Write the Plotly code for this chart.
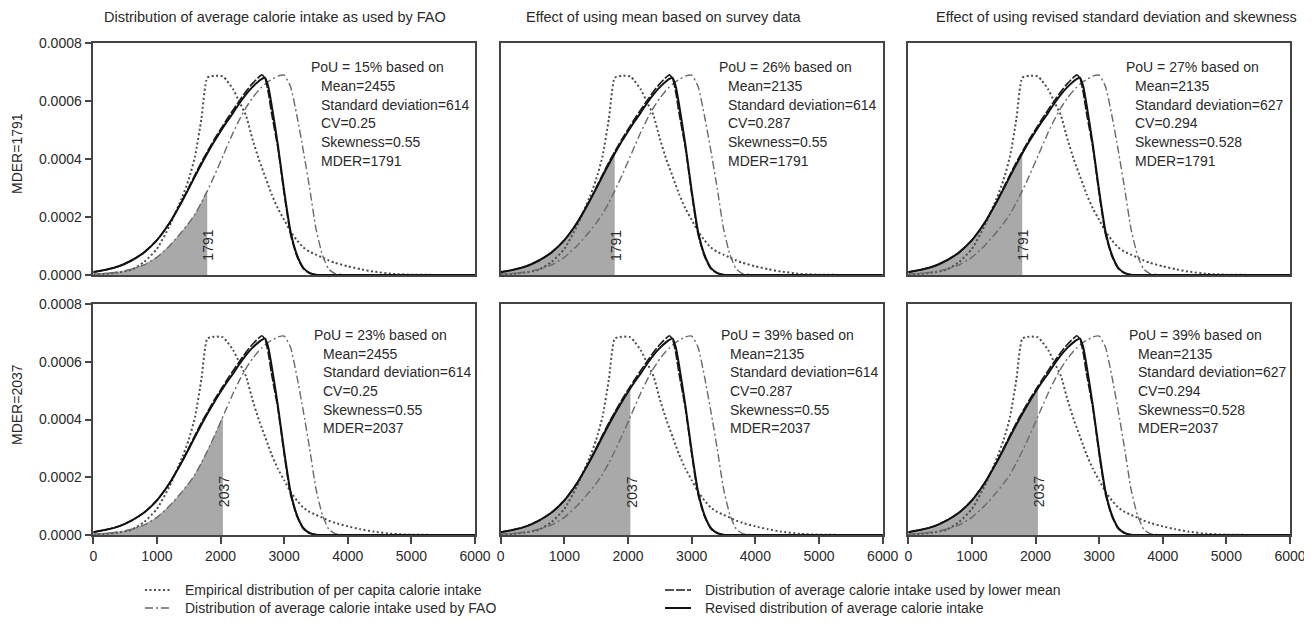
import plotly.graph_objects as go

# ---------------- data ----------------
calories = [0, 200, 400, 600, 800, 1000, 1200, 1400, 1500, 1600, 1700, 1791, 1900, 2037,
            2100, 2200, 2300, 2400, 2500, 2600, 2650, 2700, 2750, 2800, 2900, 3000, 3100,
            3200, 3300, 3400, 3500, 3600, 3700, 3800, 4000, 4200, 4400, 4700, 5000, 6000]

empirical = [0.000002, 0.000004, 0.000009, 0.000018, 0.000045, 0.00009, 0.00017, 0.00027,
             0.00033, 0.00041, 0.00054, 0.00068, 0.000687, 0.000685,
             0.00067, 0.00064, 0.000595, 0.00055, 0.00047, 0.0004, 0.00037, 0.00034, 0.00031,
             0.00028, 0.00023, 0.00019, 0.00015,
             0.00012, 0.000095, 0.00008, 0.00007, 0.00006, 0.00005, 0.000042, 0.00003,
             0.00002, 0.000012, 0.000004, 0.000001, 0.0]

fao = [0.000003, 0.000006, 0.00001, 0.00002, 0.000035, 0.000061, 0.000101, 0.000151,
       0.000179, 0.00021, 0.00025, 0.00029, 0.000341, 0.00041,
       0.000442, 0.000492, 0.000537, 0.000577, 0.00061, 0.000637, 0.000648, 0.000658, 0.000667,
       0.000674, 0.000686, 0.000689, 0.00065,
       0.00055, 0.00043, 0.0003, 0.00016, 0.00007, 0.00002, 0.000005, 0.0,
       0.0, 0.0, 0.0, 0.0, 0.0]

lower_mean = [0.00001, 0.000018, 0.00003, 0.00005, 0.000078, 0.00012, 0.00018, 0.000258,
              0.000302, 0.000346, 0.000389, 0.000425, 0.000467, 0.000515,
              0.000537, 0.00057, 0.000602, 0.000633, 0.00066, 0.000682, 0.00069, 0.000678,
              0.00063, 0.00056, 0.00044, 0.00028, 0.00014,
              0.000065, 0.000022, 0.000006, 0.000001, 0.0, 0.0, 0.0, 0.0,
              0.0, 0.0, 0.0, 0.0, 0.0]

revised = [0.00001, 0.000018, 0.00003, 0.00005, 0.000078, 0.00012, 0.00018, 0.000256,
           0.000298, 0.000341, 0.000383, 0.000419, 0.00046, 0.000508,
           0.000529, 0.00056, 0.000593, 0.000623, 0.000648, 0.000668, 0.000676, 0.00068,
           0.00065, 0.00059, 0.00045, 0.00029, 0.00015,
           0.00007, 0.000025, 0.000007, 0.000001, 0.0, 0.0, 0.0, 0.0,
           0.0, 0.0, 0.0, 0.0, 0.0]

panel_titles = ["Distribution of average calorie intake as used by FAO",
                "Effect of using mean based on survey data",
                "Effect of using revised standard deviation and skewness"]
row_mder = [1791, 2037]
pou = [["15%", "26%", "27%"], ["23%", "39%", "39%"]]
means = ["2455", "2135", "2135"]
sds = ["614", "614", "627"]
cvs = ["0.25", "0.287", "0.294"]
skews = ["0.55", "0.55", "0.528"]
x_ticks = [0, 1000, 2000, 3000, 4000, 5000, 6000]
y_ticks = [0.0, 0.0002, 0.0004, 0.0006, 0.0008]
y_tick_text = ["0.0000", "0.0002", "0.0004", "0.0006", "0.0008"]

legend_labels = ["Empirical distribution of per capita calorie intake",
                 "Distribution of average calorie intake used by lower mean",
                 "Distribution of average calorie intake used by FAO",
                 "Revised distribution of average calorie intake"]

# ---------------- styling ----------------
FONT = "Liberation Sans, Arial, sans-serif"
TXT = "#2a2a2a"
W, H = 1312, 629
OFF = 8  # page body margin offset compensation (px)
xdom = [[0.06502, 0.35595], [0.37553, 0.66669], [0.68620, 0.97713]]
ydom = [[0.57552, 0.94436], [0.16216, 0.52941]]


def px(v):
    return (v - OFF) / W


def py(v):
    return 1 - (v - OFF) / H


styles = {
    "empirical": dict(color="#4d4d4d", width=2, dash="2px,2.5px"),
    "fao": dict(color="#6a6a6a", width=1.4, dash="8px,3px,2px,3px"),
    "lower": dict(color="#1a1a1a", width=1.6, dash="9px,2px"),
    "revised": dict(color="#111111", width=2),
}
series = {"empirical": empirical, "fao": fao, "lower": lower_mean, "revised": revised}
shade_key = ["fao", "lower", "revised"]

fig = go.Figure()
annotations = []
layout_axes = {}

for r in range(2):
    for c in range(3):
        k = r * 3 + c + 1
        xa = "x" if k == 1 else f"x{k}"
        ya = "y" if k == 1 else f"y{k}"
        mder = row_mder[r]
        # shaded area
        src = series[shade_key[c]]
        sx = [x for x in calories if x <= mder]
        sy = [y for x, y in zip(calories, src) if x <= mder]
        fig.add_trace(go.Scatter(x=sx, y=sy, mode="lines", fill="tozeroy",
                                 fillcolor="#a9a9a9", line=dict(color="#a0a0a0", width=0.8,
                                 shape="spline", smoothing=0.5),
                                 xaxis=xa, yaxis=ya, showlegend=False, hoverinfo="skip"))
        for key in ["empirical", "fao", "lower", "revised"]:
            fig.add_trace(go.Scatter(x=calories, y=series[key], mode="lines",
                                     line=dict(**styles[key], shape="spline", smoothing=0.5),
                                     xaxis=xa, yaxis=ya, showlegend=False))
        # axes
        xname = "xaxis" if k == 1 else f"xaxis{k}"
        yname = "yaxis" if k == 1 else f"yaxis{k}"
        layout_axes[xname] = dict(
            domain=xdom[c], anchor=ya, range=[0, 6000], tickvals=x_ticks,
            showticklabels=(r == 1), ticks="outside" if r == 1 else "", ticklen=7,
            tickwidth=1.5, tickcolor="#444", showline=True, linecolor="#444", linewidth=1.5,
            mirror=True, showgrid=False, zeroline=False, automargin=False,
            tickfont=dict(family=FONT, size=14, color=TXT))
        layout_axes[yname] = dict(
            domain=ydom[r], anchor=xa, range=[0, 0.0008], tickvals=y_ticks,
            ticktext=y_tick_text, showticklabels=(c == 0),
            ticks="outside" if c == 0 else "", ticklen=7, tickwidth=1.5, tickcolor="#444",
            showline=True, linecolor="#444", linewidth=1.5, mirror=True, showgrid=False,
            zeroline=False, automargin=False, tickfont=dict(family=FONT, size=14, color=TXT))
        # MDER label
        annotations.append(dict(x=mder + 20, y=0.000103 if r == 0 else 0.000149,
                                xref=xa, yref=ya, text=str(mder), textangle=-90,
                                xanchor="center", yanchor="middle",
                                showarrow=False, font=dict(family=FONT, size=14, color=TXT)))
        # info block
        lines = [f"PoU = {pou[r][c]} based on", f"Mean={means[c]}",
                 f"Standard deviation={sds[c]}", f"CV={cvs[c]}",
                 f"Skewness={skews[c]}", f"MDER={mder}"]
        y0 = 0.000717 if r == 0 else 0.000693
        step = 0.0000648
        xl = 3395 if r == 0 else 3430
        xi = 3540 if r == 0 else 3575
        for i, t in enumerate(lines):
            annotations.append(dict(x=xl if i == 0 else xi, y=y0 - i * step, xref=xa, yref=ya,
                                    text=t, showarrow=False, xanchor="left", yanchor="middle",
                                    font=dict(family=FONT, size=14, color=TXT)))

# panel titles
title_centers = [275, 664, 1116]
for c in range(3):
    annotations.append(dict(x=px(title_centers[c]), y=py(17), xref="paper", yref="paper",
                            text=panel_titles[c], showarrow=False, xanchor="center",
                            yanchor="middle", font=dict(family=FONT, size=14.5, color=TXT)))

# row labels
for r, yc in enumerate([154, 405]):
    annotations.append(dict(x=px(17), y=py(yc), xref="paper", yref="paper",
                            text=f"MDER={row_mder[r]}", textangle=-90, showarrow=False,
                            xanchor="center", yanchor="middle",
                            font=dict(family=FONT, size=14, color=TXT)))

# legend (two columns)
shapes = []
leg_keys = ["empirical", "lower", "fao", "revised"]
leg_pos = [(145, 590), (665, 590), (145, 608), (665, 608)]
for key, lab, (lx, ly) in zip(leg_keys, legend_labels, leg_pos):
    st = styles[key]
    shapes.append(dict(type="line", xref="paper", yref="paper", x0=px(lx), x1=px(lx + 26),
                       y0=py(ly), y1=py(ly),
                       line=dict(color=st["color"], width=st["width"],
                                 dash=st.get("dash", "solid"))))
    annotations.append(dict(x=px(lx + 38), y=py(ly), xref="paper", yref="paper",
                            text=lab, showarrow=False, xanchor="left", yanchor="middle",
                            font=dict(family=FONT, size=14, color=TXT)))

fig.update_layout(width=W, height=H,
                  margin=dict(l=0, r=0, t=0, b=0, pad=0, autoexpand=False),
                  paper_bgcolor="white", plot_bgcolor="white", showlegend=False,
                  annotations=annotations, shapes=shapes, **layout_axes)

fig.write_html("out.html")
